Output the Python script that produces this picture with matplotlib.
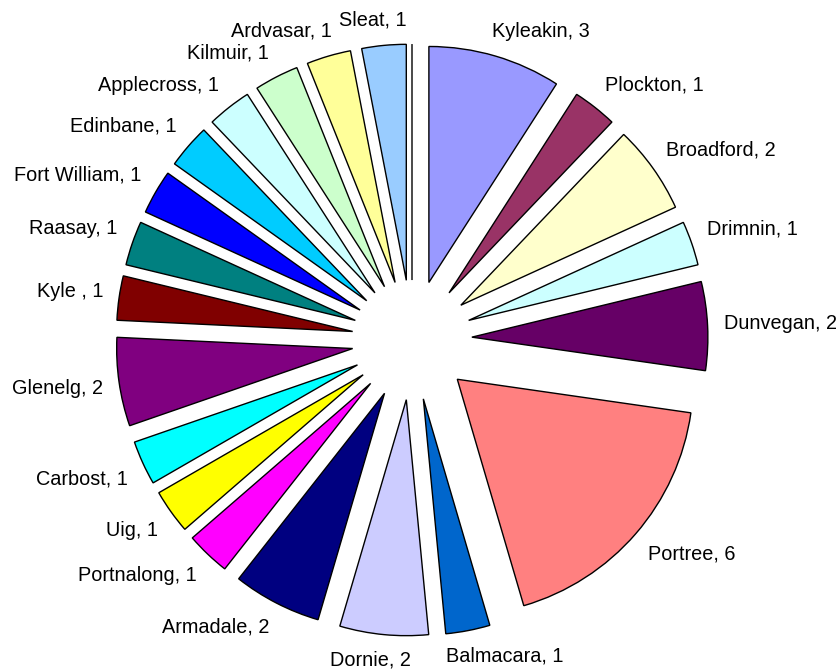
import matplotlib.pyplot as plt
from matplotlib.transforms import offset_copy
import numpy as np

plt.rcParams['font.family'] = ['Liberation Sans', 'DejaVu Sans']

# slices clockwise from 12 o'clock
places = ['Kyleakin', 'Plockton', 'Broadford', 'Drimnin', 'Dunvegan', 'Portree',
          'Balmacara', 'Dornie', 'Armadale', 'Portnalong', 'Uig', 'Carbost',
          'Glenelg', 'Kyle ', 'Raasay', 'Fort William', 'Edinbane', 'Applecross',
          'Kilmuir', 'Ardvasar', 'Sleat', '']
counts = [3, 1, 2, 1, 2, 6, 1, 2, 2, 1, 1, 1, 2, 1, 1, 1, 1, 1, 1, 1, 1, 0]
colors = ['#9999FF', '#993366', '#FFFFCC', '#CCFFFF', '#660066', '#FF8080',
          '#0066CC', '#CCCCFF', '#000080', '#FF00FF', '#FFFF00', '#00FFFF',
          '#800080', '#800000', '#008080', '#0000FF', '#00CCFF', '#CCFFFF',
          '#CCFFCC', '#FFFF99', '#99CCFF', '#FFFFFF']

labels = [f'{p}, {c}' if p else '' for p, c in zip(places, counts)]

fig = plt.figure(figsize=(8.36, 6.72), dpi=100)
ax = fig.add_axes([0, 0, 1, 1])

R = 236.0  # radius in pixels
wedges, texts = ax.pie(counts, labels=labels, colors=colors,
                       explode=[0.254] * len(counts),
                       startangle=90, counterclock=False,
                       labeldistance=1.068,
                       wedgeprops=dict(edgecolor='black', linewidth=1.0),
                       textprops=dict(fontsize=14.3, color='black'))

ax.set_xlim(-412 / R, 424 / R)
ax.set_ylim(-332 / R, 340 / R)
ax.set_aspect('equal')
ax.axis('off')

# push each label outward so its box sits outside the slice
renderer = fig.canvas.get_renderer()
for w, t in zip(wedges, texts):
    if not t.get_text():
        continue
    th = np.deg2rad((w.theta1 + w.theta2) / 2)
    t.set_ha('center')
    t.set_va('center')
    bb = t.get_window_extent(renderer)
    fx = np.clip(3 * np.cos(th), -1, 1)
    fy = np.clip(3 * np.sin(th), -1, 1)
    dx = bb.width / 2 * fx
    dy = bb.height / 2 * fy
    t.set_transform(offset_copy(ax.transData, fig, x=dx, y=dy, units='dots'))

fig.savefig('out.png', dpi=100)
